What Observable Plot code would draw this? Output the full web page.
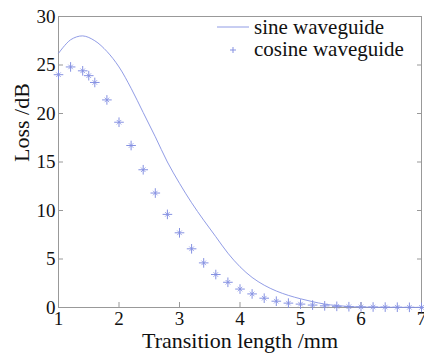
<!DOCTYPE html>
<html><head><meta charset="utf-8">
<script src="https://cdn.jsdelivr.net/npm/d3@7"></script>
<script src="https://cdn.jsdelivr.net/npm/@observablehq/plot@0.6"></script>
<style>
body{margin:0;background:#fff;}
#wrap{position:relative;width:424px;height:355px;font-family:'Liberation Serif';}
#legend{position:absolute;left:214px;top:16px;font-size:21px;line-height:22px;color:#111;font-family:'Liberation Serif';}
#legend div{display:flex;align-items:center;white-space:nowrap;height:22px;}
</style></head>
<body><div id="wrap"></div>
<script>
const sineX = [1.0,1.2,1.4,1.6,1.8,2.0,2.2,2.4,2.6,2.8,3.0,3.2,3.4,3.6,3.8,4.0,4.2,4.4,4.6,4.8,5.0,5.2,5.4,5.6,5.8,6.0,6.5,7.0];
const sineY = [26.2,27.6,28.0,27.5,26.4,24.8,22.6,20.1,17.6,15.0,12.8,10.8,9.0,7.3,5.6,4.2,3.1,2.3,1.7,1.25,0.9,0.6,0.35,0.2,0.1,0.05,0.02,0.01];
const cosX = [1.0,1.2,1.4,1.5,1.6,1.8,2.0,2.2,2.4,2.6,2.8,3.0,3.2,3.4,3.6,3.8,4.0,4.2,4.4,4.6,4.8,5.0,5.2,5.4,5.6,5.8,6.0,6.2,6.4,6.6,6.8,7.0];
const cosY = [24.0,24.8,24.4,23.9,23.2,21.4,19.1,16.7,14.2,11.8,9.6,7.7,6.05,4.6,3.4,2.6,1.9,1.4,0.96,0.65,0.45,0.35,0.25,0.17,0.12,0.08,0.06,0.05,0.04,0.03,0.02,0.01];
const xTicks = [1,2,3,4,5,6,7];
const yTicks = [0,5,10,15,20,25,30];
const seriesNames = ["sine waveguide","cosine waveguide"];
const color = "#8591e2";

const sine = sineX.map((x,i)=>({x, y: sineY[i]}));
const cosine = cosX.map((x,i)=>({x, y: cosY[i]}));

const chart = Plot.plot({
  width: 424, height: 355,
  marginLeft: 58, marginTop: 16, marginRight: 3, marginBottom: 48,
  style: {fontFamily: "Liberation Serif", fontSize: "19px", color: "#111", background: "#fff"},
  x: {domain: [1,7]},
  y: {domain: [0,30]},
  marks: [
    Plot.frame({stroke: "#999", strokeWidth: 1}),
    Plot.axisX(xTicks, {tickSize: -5, tickPadding: 9, stroke: "#999", fill: "#111", fontSize: 19, label: null}),
    Plot.axisY(yTicks, {tickSize: -5, tickPadding: 8, stroke: "#999", fill: "#111", fontSize: 19, label: null}),
    Plot.axisY(yTicks, {anchor: "right", tickSize: -5, text: null, stroke: "#999", label: null}),
    Plot.line(sine, {x: "x", y: "y", stroke: color, strokeWidth: 0.9, curve: "catmull-rom"}),
    Plot.dot(cosine, {x: "x", y: "y", symbol: "plus", r: 3.2, stroke: color, strokeWidth: 1}),
    Plot.dot(cosine, {x: "x", y: "y", symbol: "times", r: 2.2, stroke: color, strokeWidth: 0.8}),
    Plot.text(["Transition length /mm"], {frameAnchor: "bottom", dy: 40, lineAnchor: "bottom", fontSize: 22, fill: "#111"}),
    Plot.text(["Loss /dB"], {frameAnchor: "left", dx: -37, rotate: -90, fontSize: 22, fill: "#111"})
  ]
});
const wrap = document.getElementById("wrap");
wrap.appendChild(chart);
const leg = document.createElement("div");
leg.id = "legend";
leg.innerHTML = `<div><svg width="40" height="14"><line x1="3" x2="35" y1="7" y2="7" stroke="${color}" stroke-width="0.9"/></svg><span>${seriesNames[0]}</span></div>
<div><svg width="40" height="14"><g stroke="${color}"><line x1="16" x2="22" y1="8" y2="8"/><line x1="19" x2="19" y1="5" y2="11"/></g></svg><span>${seriesNames[1]}</span></div>`;
wrap.appendChild(leg);
</script></body></html>
